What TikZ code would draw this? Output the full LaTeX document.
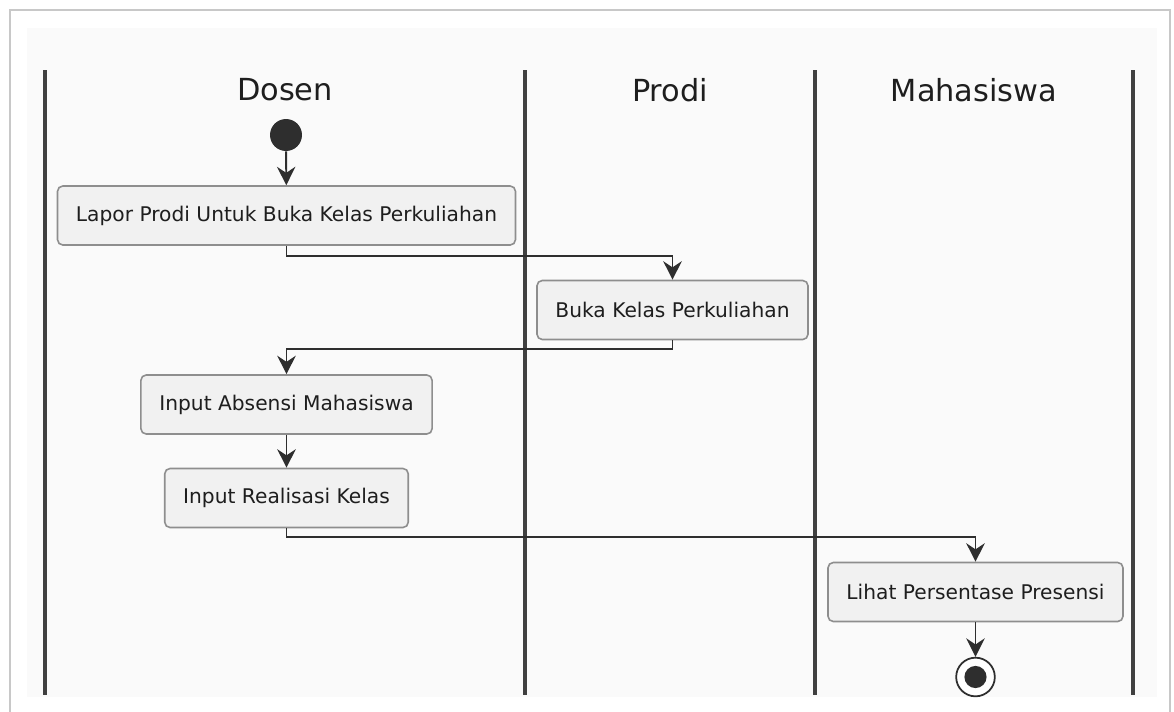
\documentclass[tikz,border=0pt]{standalone}
\usepackage{fontspec}
\setmainfont{DejaVu Sans}
\usetikzlibrary{arrows.meta}
\definecolor{framegray}{HTML}{C8C8C8}
\definecolor{panelbg}{HTML}{FAFAFA}
\definecolor{lanedark}{HTML}{404040}
\definecolor{linedark}{HTML}{2E2E2E}
\definecolor{boxfill}{HTML}{F1F1F1}
\definecolor{boxline}{HTML}{8E8E8E}
\definecolor{textdark}{HTML}{1E1E1E}
\tikzset{
    lanetitle/.style={font=\fontsize{17.3}{20}\selectfont,text=textdark},
    act/.style={draw=boxline,fill=boxfill,rounded corners=3pt,line width=0.9pt,
        minimum height=33.6pt,inner xsep=10.5pt,font=\fontsize{11.5}{13}\selectfont,text=textdark},
    startdot/.style={circle,fill=linedark,minimum size=18.2pt,inner sep=0pt},
    enddot/.style={circle,draw=linedark,line width=1pt,fill=white,minimum size=22pt,inner sep=0pt},
    flow/.style={->,line width=1.1pt,draw=linedark},
}
\begin{document}
\begin{tikzpicture}[x=0.02cm,y=-0.02cm,>={Stealth[length=10.5pt,width=10.5pt,inset=3.5pt]}]
        \useasboundingbox(0,0)rectangle(1174,711);
        % frame and swimlanes
        \draw[framegray,line width=1.2pt,fill=white](10,10)rectangle(1170,740);
        \fill[panelbg](27,28)rectangle(1157,697);
        \foreach \x in {45,525,815,1133}
            {
                \draw[lanedark,line width=1.9pt](\x,70)--(\x,695);
            }
        \node[lanetitle](dosen) at (285,90){Dosen};
        \node[lanetitle](prodi) at (670,90){Prodi};
        \node[lanetitle](mhs) at (974,90){Mahasiswa};

        % activities
        \node[startdot](start) at (286,135){};
        \node[act](lapor) at (286.5,215.5){Lapor Prodi Untuk Buka Kelas Perkuliahan};
        \node[act](buka) at (672.5,310){Buka Kelas Perkuliahan};
        \node[act](absen) at (286.5,404.5){Input Absensi Mahasiswa};
        \node[act](realisasi) at (286.5,498){Input Realisasi Kelas};
        \node[act](lihat) at (975.5,592){Lihat Persentase Presensi};
        \node[enddot](stop) at (975.5,677){};
        \fill[linedark](stop.center)circle(6.3pt);

        % flows
        \draw[flow](start)--(lapor);
        \draw[flow](lapor.south)--++(0,10)-|(buka.north);
        \draw[flow](buka.south)--++(0,9)-|(absen.north);
        \draw[flow](absen)--(realisasi);
        \draw[flow](realisasi.south)--++(0,9)-|(lihat.north);
        \draw[flow](lihat)--(stop);
    \end{tikzpicture}
\end{document}
